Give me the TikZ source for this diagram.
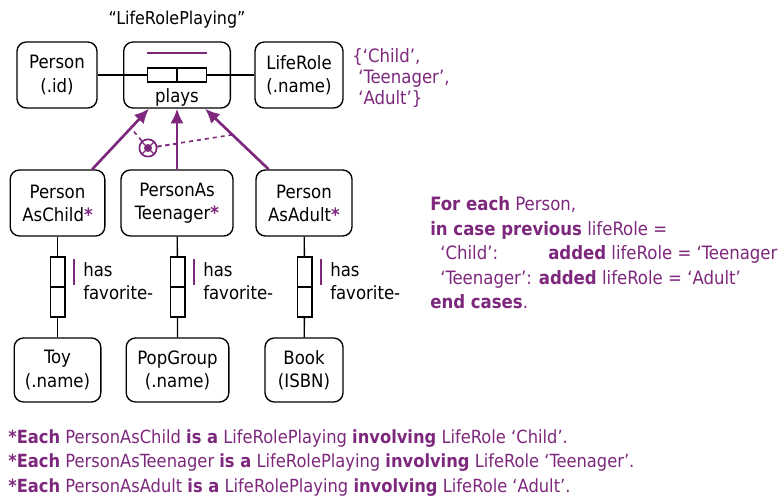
\documentclass[tikz,border=0pt]{standalone}
\usepackage{fontspec}
\setmainfont{DejaVu Sans Condensed}
\usetikzlibrary{arrows.meta}
\definecolor{ormpurple}{RGB}{125,40,125}

\begin{document}
\begin{tikzpicture}[x=0.75pt,y=-0.75pt,font=\fontsize{13.8}{17.3}\selectfont,
    ent/.style={draw,rounded corners=7pt,line width=1pt,align=center,minimum height=49.5pt,inner sep=0pt},
    rolebox/.style={draw,line width=1pt,fill=white,inner sep=0pt},
    hrole/.style={rolebox,minimum width=22pt,minimum height=10.5pt},
    vrole/.style={rolebox,minimum width=11pt,minimum height=22.5pt},
    subarrow/.style={draw=ormpurple,line width=2pt,-{Latex[length=11pt,width=10pt]}},
    excl/.style={draw=ormpurple,dashed,line width=1.2pt},
    ucbar/.style={draw=ormpurple,line width=1.5pt},
    note/.style={text=ormpurple,align=left,inner sep=0pt}]
    \useasboundingbox (0,0) rectangle (780,498);
    % top row
    \node[ent,minimum width=60pt] (person) at (57,75) {Person\\(.id)};
    \node[ent,minimum width=80pt] (lrp) at (177,75) {};
    \node[ent,minimum width=66pt] (liferole) at (299,75) {LifeRole\\(.name)};
    \node[font=\fontsize{13.3}{16}\selectfont] (lrptitle) at (177,20) {“LifeRolePlaying”};
    \node (playstxt) at (177,97) {plays};
    \node[hrole] (r1) at (162.25,75) {};
    \node[hrole] (r2) at (191.75,75) {};
    \draw[line width=1pt] (person) -- (r1);
    \draw[line width=1pt] (r2) -- (liferole);
    \draw[ucbar] ([yshift=11pt]r1.north west) -- ([yshift=11pt]r2.north east);
    \node[note,anchor=north west,font=\fontsize{13.8}{16}\selectfont] (vals) at (352,48) {\{‘Child’,\\\hspace{4.5pt}‘Teenager’,\\\hspace{4.5pt}‘Adult’\}};
    % subtypes
    \node[ent,minimum width=71pt] (pac) at (57.5,203) {Person\\AsChild\textcolor{ormpurple}{\textbf{*}}};
    \node[ent,minimum width=84pt] (pat) at (177,203) {PersonAs\\Teenager\textcolor{ormpurple}{\textbf{*}}};
    \node[ent,minimum width=72pt] (paa) at (304,203) {Person\\AsAdult\textcolor{ormpurple}{\textbf{*}}};
    \draw[subarrow] ([xshift=-10pt]pac.north east) -- coordinate[pos=0.68] (xa) ([xshift=19.5pt]lrp.south west);
    \draw[subarrow] (pat.north) -- coordinate[pos=0.42] (xt) (lrp.south);
    \draw[subarrow] ([xshift=10pt]paa.north west) -- coordinate[pos=0.57] (xd) ([xshift=-19.5pt]lrp.south east);
    \node[draw=ormpurple,circle,line width=1.3pt,minimum size=13pt,inner sep=0pt,fill=white] (xc) at (148,148) {};
    \draw[ormpurple,line width=1pt] (xc.north west) -- (xc.south east) (xc.north east) -- (xc.south west);
    \fill[ormpurple] (xc) circle (3pt);
    \draw[excl] (xc) -- (xa);
    \draw[excl] (xc) -- (xt);
    \draw[excl] (xc) -- (xd);
    % bottom objects
    \node[ent,minimum width=65pt,minimum height=48pt] (toy) at (57.5,370) {Toy\\(.name)};
    \node[ent,minimum width=77pt,minimum height=48pt] (popgroup) at (177.5,370) {PopGroup\\(.name)};
    \node[ent,minimum width=58.5pt,minimum height=48pt] (book) at (304,370) {Book\\(ISBN)};
    % has favorite- fact types
    \node[vrole] (c1) at (57.5,272) {};
    \node[vrole] (c2) at (57.5,302) {};
    \node[vrole] (t1) at (177.5,272) {};
    \node[vrole] (t2) at (177.5,302) {};
    \node[vrole] (a1) at (304.5,272) {};
    \node[vrole] (a2) at (304.5,302) {};
    \draw[line width=1pt] (pac) -- (c1) (c2) -- (toy);
    \draw[line width=1pt] (pat) -- (t1) (t2) -- (popgroup);
    \draw[line width=1pt] (paa) -- (a1) (a2) -- (book);
    \draw[ucbar] ([xshift=6pt,yshift=-2pt]c1.north east) -- ([xshift=6pt,yshift=2pt]c1.south east);
    \draw[ucbar] ([xshift=6pt,yshift=-2pt]t1.north east) -- ([xshift=6pt,yshift=2pt]t1.south east);
    \draw[ucbar] ([xshift=6pt,yshift=-2pt]a1.north east) -- ([xshift=6pt,yshift=2pt]a1.south east);
    \node[anchor=west,align=left,inner sep=0pt] (cfav) at (83,281) {has\\favorite-};
    \node[anchor=west,align=left,inner sep=0pt] (tfav) at (203,281) {has\\favorite-};
    \node[anchor=west,align=left,inner sep=0pt] (afav) at (330,281) {has\\favorite-};
    % derivation rule
    \node[note,anchor=west,font=\fontsize{13.8}{18.4}\selectfont] (rule) at (430,253) {%
      \textbf{For each} Person,\\
      \textbf{in case previous} lifeRole =\\
      \hspace{7.5pt}\makebox[81pt][l]{‘Child’:}\textbf{added} lifeRole = ‘Teenager\\
      \hspace{7.5pt}‘Teenager’: \textbf{added} lifeRole = ‘Adult’\\
      \textbf{end cases}.};
    % subtype definitions
    \node[note,anchor=west,font=\fontsize{13.6}{18.4}\selectfont] (defs) at (8,463) {%
      \textbf{*Each} PersonAsChild \textbf{is a} LifeRolePlaying \textbf{involving} LifeRole ‘Child’.\\
      \textbf{*Each} PersonAsTeenager \textbf{is a} LifeRolePlaying \textbf{involving} LifeRole ‘Teenager’.\\
      \textbf{*Each} PersonAsAdult \textbf{is a} LifeRolePlaying \textbf{involving} LifeRole ‘Adult’.};
\end{tikzpicture}
\end{document}
